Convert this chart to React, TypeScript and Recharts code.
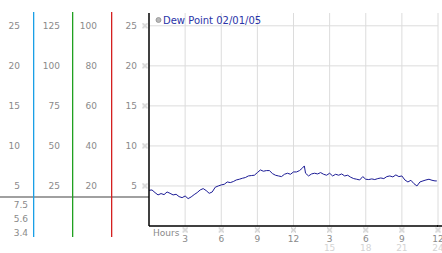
import React from 'react';
import { LineChart, Line, XAxis, YAxis, CartesianGrid, Customized } from 'recharts';

const hours = [
  0, 0.25, 0.5, 0.75, 1, 1.25, 1.5, 1.75, 2, 2.25, 2.5, 2.75, 3, 3.25, 3.5, 3.75,
  4, 4.25, 4.5, 4.75, 5, 5.25, 5.5, 5.75, 6, 6.25, 6.5, 6.75, 7, 7.25, 7.5, 7.75,
  8, 8.25, 8.5, 8.75, 9, 9.25, 9.5, 9.75, 10, 10.25, 10.5, 10.75, 11, 11.25, 11.5, 11.75,
  12, 12.25, 12.5, 12.75, 12.9, 13, 13.25, 13.5, 13.75, 14, 14.25, 14.5, 14.75, 15, 15.25, 15.5, 15.75,
  16, 16.25, 16.5, 16.75, 17, 17.25, 17.5, 17.75, 18, 18.25, 18.5, 18.75, 19, 19.25, 19.5, 19.75,
  20, 20.25, 20.5, 20.75, 21, 21.25, 21.5, 21.75, 22, 22.25, 22.5, 22.75, 23, 23.25, 23.5, 23.75, 23.9,
];

const dewPoint = [
  4.46, 4.5, 4.17, 3.88, 4.05, 3.92, 4.25, 4.08, 3.88, 3.96, 3.67, 3.54, 3.75, 3.42, 3.63, 3.92,
  4.17, 4.5, 4.67, 4.42, 4.08, 4.25, 4.84, 5.0, 5.13, 5.21, 5.5, 5.42, 5.55, 5.75, 5.84, 5.96,
  6.05, 6.25, 6.3, 6.34, 6.67, 7.0, 6.84, 6.92, 6.92, 6.55, 6.34, 6.25, 6.17, 6.46, 6.59, 6.46,
  6.75, 6.75, 6.92, 7.25, 7.5, 6.59, 6.25, 6.5, 6.59, 6.5, 6.67, 6.46, 6.34, 6.59, 6.25, 6.46, 6.34,
  6.5, 6.25, 6.34, 6.09, 5.92, 5.84, 5.75, 6.17, 5.84, 5.8, 5.88, 5.8, 5.92, 6.0, 5.92, 6.17,
  6.25, 6.13, 6.38, 6.17, 6.25, 5.75, 5.5, 5.71, 5.29, 5.0, 5.5, 5.63, 5.75, 5.84, 5.71, 5.63, 5.63,
];

const yTicks = [5, 10, 15, 20, 25];
const col1Labels = ['5', '10', '15', '20', '25'];
const col2Labels = ['25', '50', '75', '100', '125'];
const col3Labels = ['20', '40', '60', '80', '100'];
const col4Labels = ['5', '10', '15', '20', '25'];
const statLabels = ['7.5', '5.6', '3.4'];

const xTicks = [3, 6, 9, 12, 15, 18, 21, 24];
const xLabels = ['3', '6', '9', '12', '3', '6', '9', '12'];
const xLabels24 = ['', '', '', '', '15', '18', '21', '24'];

const legendLabel = 'Dew Point 02/01/05';

const data = hours.map((h, i) => ({ h, v: dewPoint[i] }));

const FONT = '"DejaVu Sans", Verdana, sans-serif';
const TICK_COLOR = '#8a8a8a';

const Marker = ({ cx, cy }: { cx: number; cy: number }) => {
  const pts = [
    [0, 0], [4, 0], [1, 1], [3, 1], [2, 2], [1, 3], [3, 3], [0, 4], [4, 4],
  ];
  return (
    <g>
      <rect x={cx - 2.5} y={cy - 2.5} width={5} height={5} fill="#f0f0f0" />
      {pts.map(([a, b], i) => (
        <rect key={i} x={cx - 2.5 + a} y={cy - 2.5 + b} width={1} height={1} fill="#bdbdbd" />
      ))}
    </g>
  );
};

const YTick = (props: any) => {
  const { x, y, index } = props;
  const common = { fontFamily: FONT, fontSize: 9, fill: TICK_COLOR, textAnchor: 'end' as const, dy: 3.5 };
  return (
    <g>
      <text x={x - 129} y={y} {...common}>{col1Labels[index]}</text>
      <text x={x - 89} y={y} {...common}>{col2Labels[index]}</text>
      <text x={x - 52} y={y} {...common}>{col3Labels[index]}</text>
      <text x={x - 12} y={y} {...common}>{col4Labels[index]}</text>
      <Marker cx={x - 4} cy={y} />
    </g>
  );
};

const XTick = (props: any) => {
  const { x, y, index } = props;
  return (
    <g>
      <Marker cx={x} cy={y + 4} />
      <text x={x} y={y + 15.5} fontFamily={FONT} fontSize={9} fill={TICK_COLOR} textAnchor="middle">
        {xLabels[index]}
      </text>
      <text x={x} y={y + 24.5} fontFamily={FONT} fontSize={9} fill="#d4d4d4" textAnchor="middle">
        {xLabels24[index]}
      </text>
    </g>
  );
};

const Decor = () => (
  <g>
    <line x1={0} y1={197} x2={149} y2={197} stroke="#a0a0a0" strokeWidth={2} />
    <rect x={33} y={12} width={1.3} height={225} fill="#1a9fe6" />
    <rect x={72} y={12} width={1.3} height={225} fill="#20a020" />
    <rect x={111} y={12} width={1.3} height={225} fill="#d42020" />
    <line x1={437} y1={226} x2={442} y2={226} stroke="#000" strokeWidth={1.5} />
    {statLabels.map((s, i) => (
      <text key={i} x={28} y={208 + i * 14} fontFamily={FONT} fontSize={9} fill={TICK_COLOR} textAnchor="end">
        {s}
      </text>
    ))}
    <text x={153} y={236} fontFamily={FONT} fontSize={9} fill={TICK_COLOR}>Hours</text>
    <circle cx={158.5} cy={20} r={2.5} fill="#b8b8b8" stroke="#909090" strokeWidth={0.8} />
    <text x={163} y={24} fontFamily={FONT} fontSize={10} fill="#2a34a8">{legendLabel}</text>
  </g>
);

export default function App() {
  return (
    <div style={{ position: 'absolute', left: 0, top: 0, width: 442, height: 253, background: '#fff' }}>
      <LineChart width={442} height={253} data={data} margin={{ top: 13, right: 4, left: 0, bottom: 0 }}>
        <CartesianGrid stroke="#dcdcdc" strokeWidth={1} horizontalValues={yTicks} verticalValues={xTicks} />
        <XAxis
          dataKey="h"
          type="number"
          domain={[0, 24]}
          ticks={xTicks}
          height={27}
          axisLine={{ stroke: '#000', strokeWidth: 1.5 }}
          tickLine={false}
          tickSize={0}
          tickMargin={0}
          tick={<XTick />}
          interval={0}
        />
        <YAxis
          type="number"
          domain={[0, 26.6]}
          ticks={yTicks}
          width={149}
          axisLine={{ stroke: '#000', strokeWidth: 1.5 }}
          tickLine={false}
          tickSize={0}
          tickMargin={0}
          tick={<YTick />}
          interval={0}
        />
        <Line type="linear" dataKey="v" stroke="#1c1c96" strokeWidth={1} dot={false} isAnimationActive={false} />
        <Customized component={<Decor />} />
      </LineChart>
    </div>
  );
}
